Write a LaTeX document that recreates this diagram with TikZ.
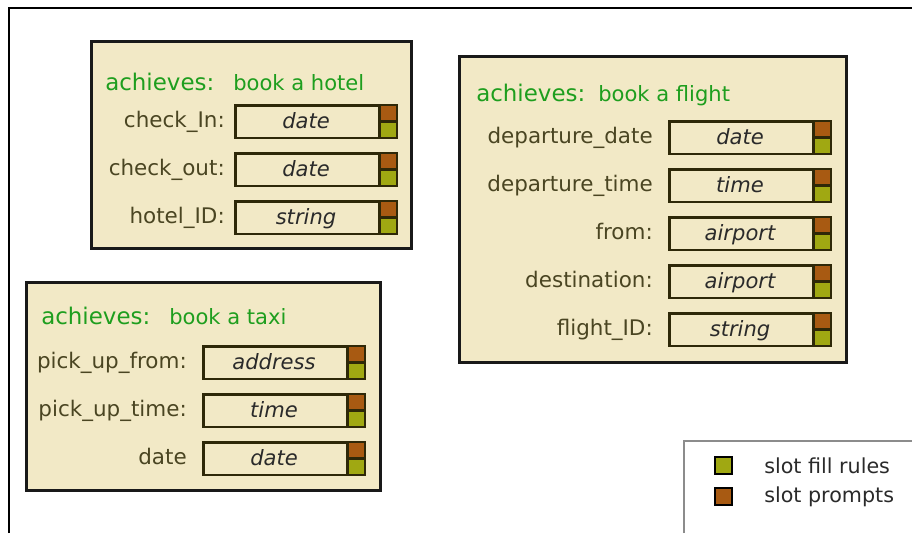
\documentclass[tikz,border=0pt]{standalone}
\usepackage{fontspec}
\setmainfont{DejaVu Sans}
\definecolor{panelfill}{HTML}{F2E9C6}
\definecolor{titlegreen}{HTML}{1E9E1E}
\definecolor{labelcol}{HTML}{4A4522}
\definecolor{typecol}{HTML}{2A2A2A}
\definecolor{fieldborder}{HTML}{2E2808}
\definecolor{promptcol}{HTML}{A85A12}
\definecolor{rulecol}{HTML}{A0A812}
\tikzset{
  panel/.style={draw=black!90, line width=2pt, fill=panelfill, inner sep=0pt, anchor=north west},
  fieldbox/.style={draw=fieldborder, line width=2pt, fill=panelfill, inner sep=0pt, anchor=north west,
    minimum width=121pt, minimum height=24.5pt},
  sqprompt/.style={draw=fieldborder, line width=1.4pt, fill=promptcol, inner sep=0pt,
    minimum width=12.5pt, minimum height=12.25pt},
  sqrule/.style={draw=fieldborder, line width=1.4pt, fill=rulecol, inner sep=0pt,
    minimum width=12.5pt, minimum height=12.25pt},
  titlea/.style={text=titlegreen, inner sep=0pt, anchor=base west, font=\fontsize{17.2}{20}\selectfont},
  titleb/.style={text=titlegreen, inner sep=0pt, anchor=base west, font=\fontsize{15.8}{19}\selectfont},
  slotlabel/.style={text=labelcol, inner sep=0pt, anchor=base east, font=\fontsize{16.1}{19}\selectfont},
  typetext/.style={text=typecol, inner sep=0pt, anchor=base, font=\fontsize{15.8}{19}\selectfont\itshape},
  legsq/.style={draw=black, line width=1.4pt, inner sep=0pt, minimum width=13pt, minimum height=12.5pt},
  legtext/.style={text=typecol, inner sep=0pt, anchor=west, font=\fontsize{15.5}{18}\selectfont},
}
% #1 name, #2 label right x, #3 field left x, #4 field top y, #5 label, #6 type
\newcommand\slotrow[6]{%
  \node[fieldbox] (#1) at (#3+1,#4+1) {};
  \node[sqprompt, anchor=north east] (#1p) at (#1.north east) {};
  \node[sqrule, anchor=south east] (#1r) at (#1.south east) {};
  \draw[draw=fieldborder, line width=2pt] (#1p.north west) -- (#1r.south west);
  \node[typetext] (#1t) at (#3+73,#4+25) {#6};
  \node[slotlabel] (#1l) at (#2,#4+24) {#5};
}
\begin{document}
\begin{tikzpicture}[x=0.75pt,y=-0.75pt]
\useasboundingbox (0,0) rectangle (912,533);
% outer frame
\coordinate (fa) at (9,533);
\coordinate (fb) at (9,8);
\coordinate (fc) at (912,8);
\draw[line width=2pt, black] (fa) -- (fb) -- (fc);
% legend frame
\coordinate (la) at (684,533);
\coordinate (lb) at (684,441);
\coordinate (lc) at (912,441);
\draw[line width=1.5pt, black!45] (la) -- (lb) -- (lc);

% hotel panel
\node[panel, minimum width=240pt, minimum height=155.5pt] (hotel) at (90,40) {};
\node[titlea] (hotelA) at (105,90) {achieves:};
\node[titleb] (hotelB) at (233,90) {book a hotel};
\slotrow{h1}{225}{233}{103}{check\_In:}{date}
\slotrow{h2}{225}{233}{151}{check\_out:}{date}
\slotrow{h3}{225}{233}{199}{hotel\_ID:}{string}

% flight panel
\node[panel, minimum width=290.25pt, minimum height=229.5pt] (flight) at (458,55) {};
\node[titlea] (flightA) at (476,101) {achieves:};
\node[titleb] (flightB) at (598,101) {book a flight};
\slotrow{f1}{653}{667}{119}{departure\_date}{date}
\slotrow{f2}{653}{667}{167}{departure\_time}{time}
\slotrow{f3}{653}{667}{215}{from:}{airport}
\slotrow{f4}{653}{667}{263}{destination:}{airport}
\slotrow{f5}{653}{667}{311}{flight\_ID:}{string}

% taxi panel
\node[panel, minimum width=265.5pt, minimum height=156pt] (taxi) at (25,281) {};
\node[titlea] (taxiA) at (41,324) {achieves:};
\node[titleb] (taxiB) at (169,324) {book a taxi};
\slotrow{t1}{187}{201}{344}{pick\_up\_from:}{address}
\slotrow{t2}{187}{201}{392}{pick\_up\_time:}{time}
\slotrow{t3}{187}{201}{440}{date}{date}

% legend
\node[legsq, fill=rulecol] (lg1) at (723.5,465.5) {};
\node[legtext] (lg1t) at (764,465.5) {slot fill rules};
\node[legsq, fill=promptcol] (lg2) at (723.5,496.5) {};
\node[legtext] (lg2t) at (764,496.5) {slot prompts};
\end{tikzpicture}
\end{document}
